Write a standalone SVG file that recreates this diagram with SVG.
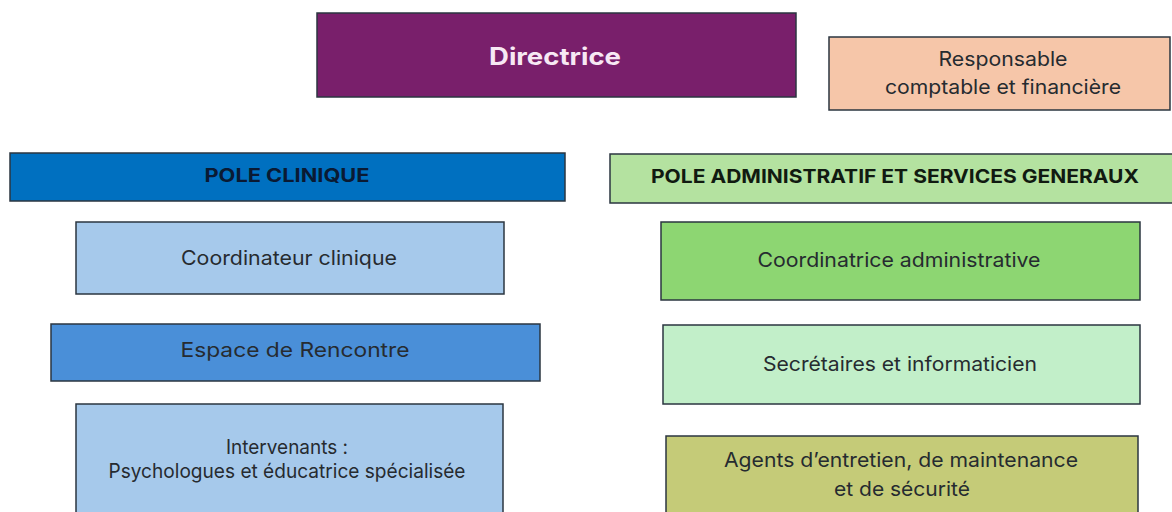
<svg xmlns="http://www.w3.org/2000/svg" width="1172" height="512" viewBox="0 0 1172 512">
<style>
.box{stroke:#2b3640;stroke-width:1.5}
.t{font-family:Inter,"Liberation Sans",sans-serif;font-size:20px;fill:#262b30;text-anchor:middle}
.b{font-family:Inter,"Liberation Sans",sans-serif;font-weight:bold;text-anchor:middle}
</style>
<rect width="1172" height="512" fill="#ffffff"/>
<g id="connectors"></g>
<g id="directrice">
<rect class="box" x="317" y="13" width="479" height="84" fill="#791f6b"/>
<text class="b" x="555" y="65" font-size="24" fill="#f7e8f4" textLength="132" lengthAdjust="spacingAndGlyphs">Directrice</text>
</g>
<g id="responsable">
<rect class="box" x="829" y="37" width="341" height="73" fill="#f6c6a9"/>
<text class="t" x="1003" y="66" textLength="129" lengthAdjust="spacingAndGlyphs">Responsable</text>
<text class="t" x="1003" y="94" textLength="236" lengthAdjust="spacingAndGlyphs">comptable et financière</text>
</g>
<g id="pole-clinique">
<rect class="box" x="10" y="153" width="555" height="48" fill="#0070c0"/>
<text class="b" x="287" y="182" font-size="19" fill="#0a1a33" textLength="165" lengthAdjust="spacingAndGlyphs">POLE CLINIQUE</text>
</g>
<g id="pole-admin">
<rect class="box" x="610" y="154" width="563" height="49" fill="#b4e2a0"/>
<text class="b" x="895" y="183" font-size="19" fill="#111a11" textLength="488" lengthAdjust="spacingAndGlyphs">POLE ADMINISTRATIF ET SERVICES GENERAUX</text>
</g>
<g id="coordinateur-clinique">
<rect class="box" x="76" y="222" width="428" height="72" fill="#a6c9eb"/>
<text class="t" x="289" y="265" fill="#1e2a3a" textLength="216" lengthAdjust="spacingAndGlyphs">Coordinateur clinique</text>
</g>
<g id="espace-rencontre">
<rect class="box" x="51" y="324" width="489" height="57" fill="#4a8fd8"/>
<text class="t" x="295" y="357" font-size="21" fill="#eef4fb" textLength="229" lengthAdjust="spacingAndGlyphs">Espace de Rencontre</text>
</g>
<g id="intervenants">
<rect class="box" x="76" y="404" width="427" height="112" fill="#a6c9eb"/>
<text class="t" x="287" y="454" font-size="17.5" fill="#1e2a3a" textLength="122" lengthAdjust="spacingAndGlyphs">Intervenants :</text>
<text class="t" x="287" y="478" font-size="17.5" fill="#1e2a3a" textLength="357" lengthAdjust="spacingAndGlyphs">Psychologues et éducatrice spécialisée</text>
</g>
<g id="coordinatrice-admin">
<rect class="box" x="661" y="222" width="479" height="78" fill="#8dd672"/>
<text class="t" x="899" y="267" fill="#18261a" textLength="283" lengthAdjust="spacingAndGlyphs">Coordinatrice administrative</text>
</g>
<g id="secretaires">
<rect class="box" x="663" y="325" width="477" height="79" fill="#c2efc9"/>
<text class="t" x="900" y="371" fill="#1f2a22" textLength="274" lengthAdjust="spacingAndGlyphs">Secrétaires et informaticien</text>
</g>
<g id="agents">
<rect class="box" x="666" y="436" width="472" height="80" fill="#c5cb78"/>
<text class="t" x="901" y="467" fill="#24261a" textLength="354" lengthAdjust="spacingAndGlyphs">Agents d’entretien, de maintenance</text>
<text class="t" x="902" y="496" fill="#24261a" textLength="136" lengthAdjust="spacingAndGlyphs">et de sécurité</text>
</g>
</svg>
